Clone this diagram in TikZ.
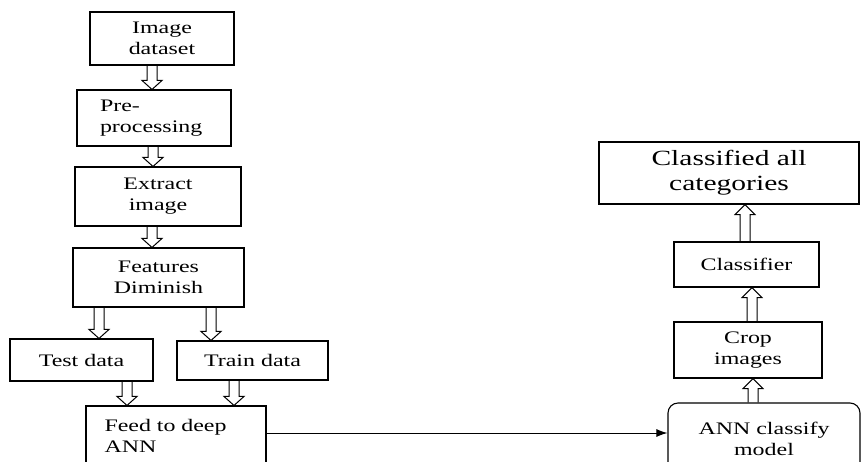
\documentclass[tikz,border=0pt]{standalone}
\usepackage{fontspec}
\setmainfont{Liberation Serif}[FakeStretch=1.36]
\usetikzlibrary{arrows.meta,calc}

\tikzset{
  box/.style={draw, line width=1.1pt, inner sep=0pt, align=center,
    font=\fontsize{17.6}{21}\selectfont},
  % hollow double-shafted arrows (vertical), drawn as an outline
  hollowdown/.style={line width=1pt, to path={let \p1=(\tikztostart), \p2=(\tikztotarget) in
    (\x1-5pt,\y1) -- (\x1-5pt,\y2+9pt) -- (\x1-10pt,\y2+9pt) -- (\x1,\y2)
    -- (\x1+10pt,\y2+9pt) -- (\x1+5pt,\y2+9pt) -- (\x1+5pt,\y1)}},
  hollowup/.style={line width=1pt, to path={let \p1=(\tikztostart), \p2=(\tikztotarget) in
    (\x1-5pt,\y1) -- (\x1-5pt,\y2-10pt) -- (\x1-10pt,\y2-10pt) -- (\x1,\y2)
    -- (\x1+10pt,\y2-10pt) -- (\x1+5pt,\y2-10pt) -- (\x1+5pt,\y1)}},
}

\begin{document}
\begin{tikzpicture}[x=1pt, y=-1pt]
  \useasboundingbox[fill=white] (0,0) rectangle (862,461);

  % left column
  \node[box, minimum width=144pt, minimum height=53pt] (img) at (162,38.5) {Image\\dataset};
  \node[box, minimum width=154pt, minimum height=56pt, text width=108pt, align=left] (pre) at (154,118) {Pre-\\processing};
  \node[box, minimum width=166pt, minimum height=59pt] (ext) at (158,196.5) {Extract\\image};
  \node[box, minimum width=171pt, minimum height=59pt] (feat) at (158.5,277.5) {Features\\Diminish};
  \node[box, minimum width=143pt, minimum height=42pt] (test) at (81.5,360) {Test data};
  \node[box, minimum width=151pt, minimum height=39pt] (train) at (252.5,360.5) {Train data};
  \node[box, minimum width=180pt, minimum height=60pt, text width=143pt, align=left] (feed) at (176,436) {Feed to deep\\ANN};

  % right column
  \node[box, minimum width=260pt, minimum height=62pt, font=\fontsize{21.7}{25}\selectfont] (cls) at (729,173) {Classified all\\categories};
  \node[box, minimum width=145pt, minimum height=45pt] (clsf) at (746.5,264.5) {Classifier};
  \node[box, minimum width=148pt, minimum height=56pt] (crop) at (748,350) {Crop\\images};
  \node[box, rounded corners=10pt, minimum width=192pt, minimum height=72pt] (ann) at (764,439) {ANN classify\\model};

  % hollow arrows down the left column
  \draw[hollowdown] (152,0 |- img.south) to (pre.north);
  \draw[hollowdown] (153,0 |- pre.south) to (ext.north);
  \draw[hollowdown] (152,0 |- ext.south) to (feat.north);
  \draw[hollowdown] (99,0 |- feat.south) to (test.north);
  \draw[hollowdown] (211,0 |- feat.south) to (train.north);
  \draw[hollowdown] (127,0 |- test.south) to (feed.north);
  \draw[hollowdown] (234,0 |- train.south) to (feed.north);

  % hollow arrows up the right column
  \draw[hollowup] (753,0 |- ann.north) to (crop.south);
  \draw[hollowup] (752,0 |- crop.north) to (clsf.south);
  \draw[hollowup] (745,0 |- clsf.north) to (cls.south);

  % link between the two columns
  \draw[line width=1pt, -{Latex[length=11pt,width=8pt]}] (feed.east |- 0,433) -- (ann.west |- 0,433);
\end{tikzpicture}
\end{document}
